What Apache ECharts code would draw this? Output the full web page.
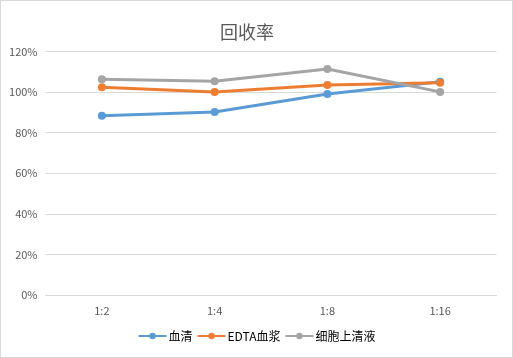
<!DOCTYPE html>
<html><head><meta charset="utf-8">
<script src="https://cdn.jsdelivr.net/npm/echarts@6/dist/echarts.min.js"></script>
<style>html,body{margin:0;padding:0;background:#fff}#c{width:513px;height:358px;box-sizing:border-box;border:1px solid #d9d9d9}</style>
</head><body><div id="c"></div>
<script>
const categories = ['1:2', '1:4', '1:8', '1:16'];
const serum = [0.883, 0.902, 0.991, 1.051];
const edta = [1.024, 1.001, 1.035, 1.046];
const supernatant = [1.063, 1.053, 1.114, 1.001];
const seriesNames = ['血清', 'EDTA血浆', '细胞上清液'];
const colors = ['#5B9BD5', '#ED7D31', '#A5A5A5'];
const font = '"Microsoft YaHei","Noto Sans CJK SC","Liberation Sans",sans-serif';

const chart = echarts.init(document.getElementById('c'), null, {renderer: 'canvas'});
const mk = (name, data, color) => ({
  name, type: 'line', data, color,
  symbol: 'circle', symbolSize: 8,
  lineStyle: {width: 3, color}, itemStyle: {color},
  emphasis: {disabled: true}
});
chart.setOption({
  animation: false,
  title: {text: '回收率', left: 214, top: 17,
    textStyle: {fontSize: 18, fontWeight: 'normal', color: '#595959', fontFamily: font}},
  legend: {bottom: 10, left: 'center', itemWidth: 28, itemHeight: 8, itemGap: 4,
    textStyle: {fontSize: 12, color: '#000', fontFamily: font, padding: [0,0,0,-3]},
    data: seriesNames},
  grid: {left: 44.5, right: 15.5, top: 50.5, bottom: 62, containLabel: false},
  xAxis: {type: 'category', data: categories, boundaryGap: true,
    axisLine: {show: true, lineStyle: {color: '#d9d9d9'}}, axisTick: {show: false},
    axisLabel: {color: '#595959', fontSize: 11, margin: 10, fontFamily: font}},
  yAxis: {type: 'value', min: 0, max: 1.2, interval: 0.2,
    axisLine: {show: false}, axisTick: {show: false},
    splitLine: {lineStyle: {color: '#d9d9d9'}},
    axisLabel: {color: '#595959', fontSize: 11, margin: 8, fontFamily: font,
      formatter: v => Math.round(v * 100) + '%'}},
  series: [mk(seriesNames[0], serum, colors[0]), mk(seriesNames[1], edta, colors[1]), mk(seriesNames[2], supernatant, colors[2])]
});
</script></body></html>
